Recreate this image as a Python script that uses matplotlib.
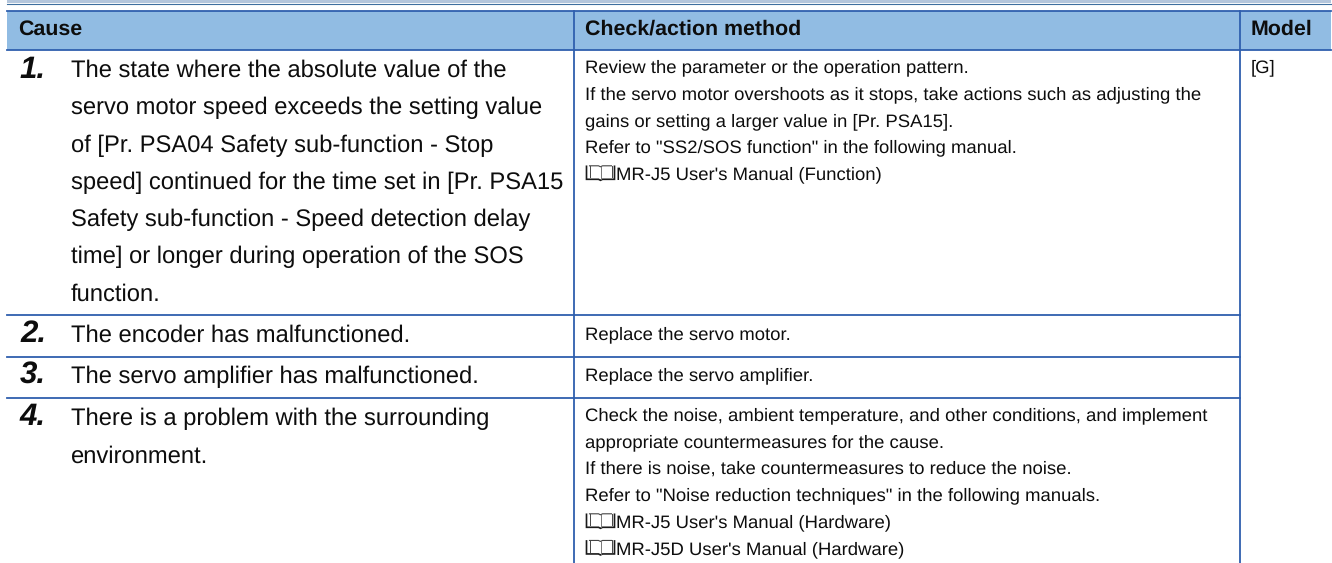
#!/usr/bin/env python3
"""Rebuild the troubleshooting table (cause / check / model) as a figure."""

import matplotlib
matplotlib.use('Agg')
import matplotlib.pyplot as plt

WIDTH, HEIGHT = 1332, 563

headers = ['Cause', 'Check/action method', 'Model']
numbers = ['1.', '2.', '3.', '4.']
causes = [
    ['The state where the absolute value of the',
     'servo motor speed exceeds the setting value',
     'of [Pr. PSA04 Safety sub-function - Stop',
     'speed] continued for the time set in [Pr. PSA15',
     'Safety sub-function - Speed detection delay',
     'time] or longer during operation of the SOS',
     'function.'],
    ['The encoder has malfunctioned.'],
    ['The servo amplifier has malfunctioned.'],
    ['There is a problem with the surrounding',
     'environment.'],
]
actions = [
    ['Review the parameter or the operation pattern.',
     'If the servo motor overshoots as it stops, take actions such as adjusting the',
     'gains or setting a larger value in [Pr. PSA15].',
     'Refer to "SS2/SOS function" in the following manual.',
     '@MR-J5 User\'s Manual (Function)'],
    ['Replace the servo motor.'],
    ['Replace the servo amplifier.'],
    ['Check the noise, ambient temperature, and other conditions, and implement',
     'appropriate countermeasures for the cause.',
     'If there is noise, take countermeasures to reduce the noise.',
     'Refer to "Noise reduction techniques" in the following manuals.',
     '@MR-J5 User\'s Manual (Hardware)',
     '@MR-J5D User\'s Manual (Hardware)'],
]
model_label = '[G]'

LEFT, RIGHT = 7, 1331
COL2, COL3 = 574, 1240
HEAD_TOP, HEAD_BOTTOM = 11, 50
ROW_LINES = [315, 357, 398]
RULE = '#2f5fae'
HEAD_FILL = '#91bce3'
INK = '#0d0d0d'

# first-line baselines per row
NUM_BASE = [78, 342, 383, 425]
CAUSE_BASE = [77, 342, 383, 425]
ACTION_BASE = [72.7, 339, 380, 420.7]


def draw_book(ax, x, y):
    """Open-book manual icon, left edge at x, standing on baseline y."""
    ax.plot([x, x, x + 12, x + 14, x + 16, x + 28, x + 28],
            [y - 13, y, y, y + 1, y, y, y - 13],
            color='#1a1a1a', lw=1.2, solid_joinstyle='miter')
    ax.plot([x + 3, x + 12, x + 14, x + 16, x + 25],
            [y - 13.5, y - 13.5, y - 12.5, y - 13.5, y - 13.5],
            color='#444444', lw=0.8)
    ax.plot([x + 14, x + 14], [y - 12.5, y], color='#777777', lw=0.7)
    ax.plot([x + 3, x + 3], [y - 13.5, y - 2], color='#444444', lw=0.7)
    ax.plot([x + 25, x + 25], [y - 13.5, y - 2], color='#444444', lw=0.7)


def main():
    plt.rcParams['font.family'] = ['Liberation Sans', 'DejaVu Sans']
    plt.rcParams['text.hinting'] = 'no_hinting'
    fig = plt.figure(figsize=(WIDTH / 100, HEIGHT / 100), dpi=100)
    ax = fig.add_axes([0, 0, 1, 1])
    ax.set_xlim(0, WIDTH)
    ax.set_ylim(HEIGHT, 0)
    ax.axis('off')

    # strip left over from the page above
    ax.axhspan(0, 3, xmin=LEFT / WIDTH, xmax=RIGHT / WIDTH, color='#b4c6dc', lw=0)
    ax.plot([LEFT, RIGHT], [3.5, 3.5], color='#3f6f9f', lw=0.8)
    ax.axhspan(4, 5, xmin=LEFT / WIDTH, xmax=RIGHT / WIDTH, color='#d5e6f3', lw=0)

    # header band
    ax.axhspan(HEAD_TOP, HEAD_BOTTOM, xmin=LEFT / WIDTH, xmax=RIGHT / WIDTH,
               color=HEAD_FILL, lw=0)
    ax.plot([LEFT, RIGHT], [HEAD_TOP, HEAD_TOP], color=RULE, lw=1.3)
    ax.plot([LEFT, RIGHT], [HEAD_BOTTOM, HEAD_BOTTOM], color=RULE, lw=1.3)
    for y in ROW_LINES:
        ax.plot([LEFT, COL3], [y, y], color=RULE, lw=1.3)
    for x in (COL2, COL3):
        ax.plot([x, x], [HEAD_TOP, HEIGHT], color=RULE, lw=1.3)

    for x, label in zip((18, 585, 1251), headers):
        ax.text(x, 35, label, fontsize=15.4, fontweight='bold', va='baseline', color=INK)

    for r, num in enumerate(numbers):
        ax.text(20, NUM_BASE[r], num, fontsize=22.5, fontweight='bold', style='italic',
                va='baseline', color=INK)
        for i, line in enumerate(causes[r]):
            ax.text(71, CAUSE_BASE[r] + i * 37.3, line, fontsize=17.1,
                    va='baseline', color=INK)
        for i, line in enumerate(actions[r]):
            y = ACTION_BASE[r] + i * 26.65
            x = 585
            if line.startswith('@'):
                draw_book(ax, x + 1.5, y)
                line = line[1:]
                x += 31.5
            ax.text(x, y, line, fontsize=13.3, va='baseline', color=INK)
    ax.text(1251, ACTION_BASE[0], model_label, fontsize=13.3, va='baseline', color=INK)

    fig.savefig('out.png', dpi=100)
    plt.close(fig)


if __name__ == '__main__':
    main()
